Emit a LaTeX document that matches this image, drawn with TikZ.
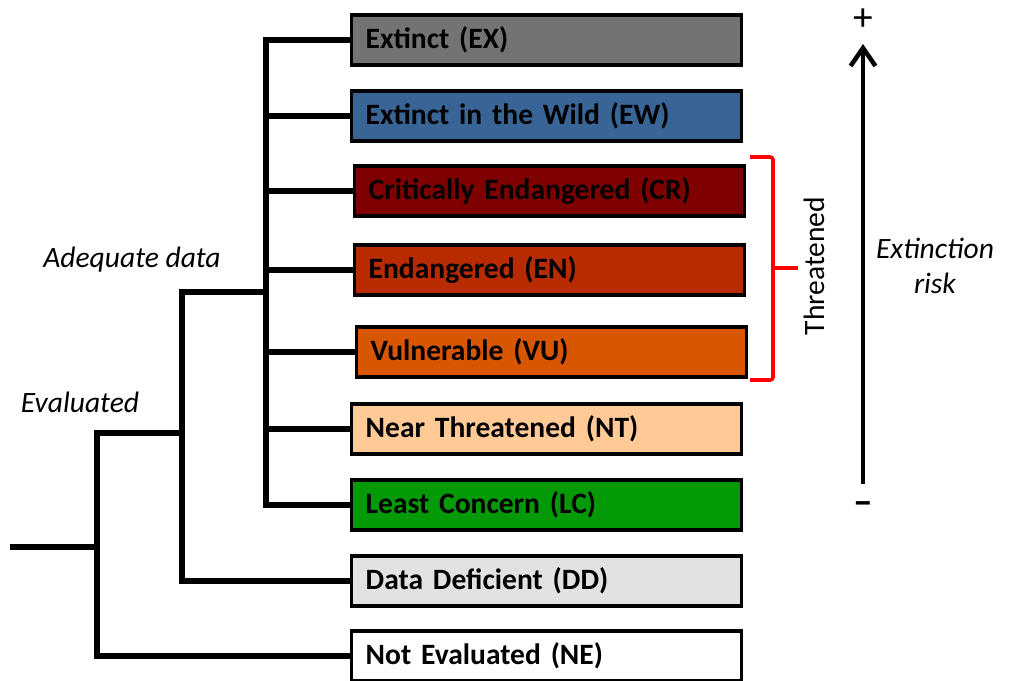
\documentclass[tikz,border=0pt]{standalone}
\usepackage{fontspec}
\setmainfont{Carlito}
\usetikzlibrary{arrows.meta}

\begin{document}
\begin{tikzpicture}[x=0.025cm,y=-0.025cm,
	catbox/.style={draw, line width=2.4pt, anchor=west, minimum height=1.25cm,
		text width=9.05cm, inner xsep=0.35cm, align=left,
		font=\fontsize{21}{25}\selectfont\bfseries},
	branch/.style={line width=4.2pt},
	tag/.style={font=\fontsize{21}{25}\selectfont\itshape}]
	\definecolor{excol}{HTML}{737373}
	\definecolor{ewcol}{HTML}{386496}
	\definecolor{crcol}{HTML}{7F0000}
	\definecolor{encol}{HTML}{B82B00}
	\definecolor{vucol}{HTML}{D95600}
	\definecolor{ntcol}{HTML}{FFCA96}
	\definecolor{lccol}{HTML}{049A07}
	\definecolor{ddcol}{HTML}{E2E2E2}
	\useasboundingbox (0,0) rectangle (1020,680);

	% categories
	\node[catbox, fill=excol] (ex) at (350,40) {Extinct (EX)};
	\node[catbox, fill=ewcol] (ew) at (350,116) {Extinct in the Wild (EW)};
	\node[catbox, fill=crcol] (cr) at (353,191) {Critically Endangered (CR)};
	\node[catbox, fill=encol] (en) at (353,270) {Endangered (EN)};
	\node[catbox, fill=vucol] (vu) at (355,352) {Vulnerable (VU)};
	\node[catbox, fill=ntcol] (nt) at (350,429) {Near Threatened (NT)};
	\node[catbox, fill=lccol] (lc) at (350,505) {Least Concern (LC)};
	\node[catbox, fill=ddcol] (dd) at (350,581) {Data Deficient (DD)};
	\node[catbox, fill=white] (ne) at (350,656) {Not Evaluated (NE)};

	% tree
	\coordinate (root) at (10,547);
	\coordinate (ev) at (97,433);
	\coordinate (ad) at (182,292);
	\coordinate (rk) at (266,40);
	\draw[branch] (root) -- (root -| ev);
	\draw[branch] (ne.west) -| (ev) -- (ev -| ad);
	\draw[branch] (dd.west) -| (ad) -- (ad -| rk);
	\draw[branch] (lc.west) -| (rk) -- (ex.west);
	\foreach \n in {ew,cr,en,vu,nt}
		\draw[branch] (\n.west -| rk) -- (\n.west);

	% labels
	\node[tag] (adlab) at (132,260) {Adequate data};
	\node[tag] (evlab) at (80,402) {Evaluated};

	% threatened bracket
	\draw[red, line width=2.6pt, rounded corners=2pt] (750,157) -- (773,157) -- (773,380) -- (750,380);
	\draw[red, line width=2.6pt] (773,268) -- (798,268);
	\node[rotate=90, font=\fontsize{21}{25}\selectfont] (thr) at (814,266) {Threatened};

	% extinction risk axis
	\node[font=\fontsize{28}{30}\selectfont] (plus) at (863,20) {+};
	\node[font=\fontsize{28}{30}\selectfont\bfseries] (minus) at (863,508) {--};
	\coordinate (lo) at (863,484);
	\coordinate (hi) at (863,44);
	\draw[-{Straight Barb[length=0.45cm,width=0.62cm]}, line width=3.2pt] (lo) -- (hi);
	\node[tag, align=center] (risk) at (935,266) {Extinction\\risk};
\end{tikzpicture}
\end{document}
